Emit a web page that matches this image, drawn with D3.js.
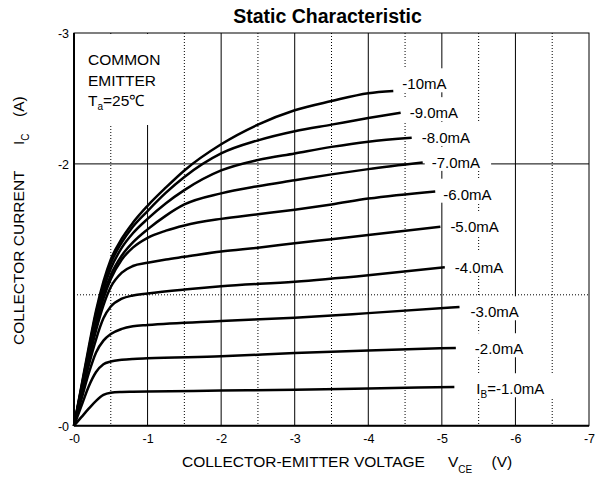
<!DOCTYPE html>
<html>
<head>
<meta charset="utf-8">
<script src="https://cdn.jsdelivr.net/npm/d3@7"></script>
<style>
  body { margin: 0; background: #fff; }
  text { font-family: "Liberation Sans", Arial, sans-serif; fill: #000; }
</style>
</head>
<body>
<div id="chart"></div>
<script>
// Base current of each curve (PNP, so everything is negative)
const ibLabels = ["-10mA", "-9.0mA", "-8.0mA", "-7.0mA", "-6.0mA", "-5.0mA", "-4.0mA", "-3.0mA", "-2.0mA", "-1.0mA"];

// [VCE (V), IC (A)]
const curve10mA = [[0, 0], [-0.1, -0.3], [-0.2, -0.6], [-0.3, -0.88], [-0.4, -1.1], [-0.5, -1.27], [-0.65, -1.43], [-0.8, -1.55], [-1, -1.68], [-1.25, -1.82], [-1.5, -1.95], [-2, -2.15], [-2.5, -2.3], [-3, -2.41], [-3.5, -2.48], [-4, -2.54], [-4.34, -2.557]];
const curve9mA = [[0, 0], [-0.1, -0.29], [-0.2, -0.58], [-0.3, -0.86], [-0.4, -1.07], [-0.5, -1.24], [-0.65, -1.4], [-0.8, -1.52], [-1, -1.64], [-1.25, -1.78], [-1.5, -1.9], [-2, -2.08], [-2.5, -2.18], [-3, -2.25], [-3.5, -2.3], [-4, -2.35], [-4.44, -2.39]];
const curve8mA = [[0, 0], [-0.1, -0.28], [-0.2, -0.56], [-0.3, -0.83], [-0.4, -1.04], [-0.5, -1.2], [-0.65, -1.36], [-0.8, -1.47], [-1, -1.58], [-1.25, -1.7], [-1.5, -1.8], [-2, -1.95], [-2.5, -2.03], [-3, -2.08], [-3.5, -2.13], [-4, -2.17], [-4.59, -2.2]];
const curve7mA = [[0, 0], [-0.1, -0.27], [-0.2, -0.54], [-0.3, -0.8], [-0.4, -1.0], [-0.5, -1.15], [-0.65, -1.3], [-0.8, -1.4], [-1, -1.5], [-1.25, -1.605], [-1.5, -1.69], [-2, -1.775], [-2.5, -1.83], [-3, -1.875], [-3.5, -1.92], [-4, -1.96], [-4.74, -2.01]];
const curve6mA = [[0, 0], [-0.1, -0.26], [-0.2, -0.52], [-0.3, -0.77], [-0.4, -0.97], [-0.5, -1.12], [-0.65, -1.27], [-0.8, -1.36], [-1, -1.435], [-1.25, -1.49], [-1.5, -1.53], [-2, -1.58], [-2.5, -1.615], [-3, -1.65], [-3.5, -1.69], [-4, -1.735], [-4.91, -1.79]];
const curve5mA = [[0, 0], [-0.1, -0.25], [-0.2, -0.5], [-0.3, -0.73], [-0.4, -0.92], [-0.5, -1.06], [-0.65, -1.17], [-0.8, -1.22], [-1, -1.245], [-1.25, -1.27], [-1.5, -1.29], [-2, -1.33], [-2.5, -1.36], [-3, -1.393], [-3.5, -1.425], [-4, -1.457], [-4.98, -1.52]];
const curve4mA = [[0, 0], [-0.1, -0.23], [-0.2, -0.46], [-0.3, -0.66], [-0.4, -0.82], [-0.5, -0.91], [-0.65, -0.97], [-0.8, -0.995], [-1, -1.01], [-1.5, -1.04], [-2, -1.065], [-3, -1.1], [-4, -1.15], [-5.04, -1.21]];
const curve3mA = [[0, 0], [-0.1, -0.2], [-0.2, -0.4], [-0.3, -0.56], [-0.4, -0.65], [-0.5, -0.7], [-0.65, -0.74], [-0.8, -0.76], [-1, -0.77], [-2, -0.8], [-3, -0.825], [-4, -0.86], [-5.24, -0.907]];
const curve2mA = [[0, 0], [-0.1, -0.15], [-0.2, -0.3], [-0.3, -0.41], [-0.4, -0.47], [-0.5, -0.49], [-0.65, -0.503], [-0.8, -0.51], [-1, -0.515], [-2, -0.53], [-3, -0.555], [-4, -0.575], [-5.19, -0.594]];
const curve1mA = [[0, 0], [-0.1, -0.065], [-0.2, -0.13], [-0.3, -0.19], [-0.4, -0.235], [-0.5, -0.252], [-0.65, -0.258], [-0.8, -0.26], [-1, -0.262], [-2, -0.268], [-3, -0.275], [-4, -0.285], [-5.17, -0.296]];
const curves = [curve10mA, curve9mA, curve8mA, curve7mA, curve6mA, curve5mA, curve4mA, curve3mA, curve2mA, curve1mA];

// axes
const xTicks = [0, -1, -2, -3, -4, -5, -6, -7];
const xTickLabels = ["-0", "-1", "-2", "-3", "-4", "-5", "-6", "-7"];
const yTicks = [-3, -2, 0];
const yTickLabels = ["-3", "-2", "-0"];
const xMajorGrid = [-1, -2, -3, -4, -5, -6];
const xMinorGrid = [-0.5, -1.5, -2.5, -3.5, -4.5, -5.5, -6.5];
const yMajorGrid = [-2];
const yMinorGrid = [-1];

// label offsets from the curve ends, in pixels [dx, dy]
const labelNudge = [[9, -7], [9, 0], [10, 0], [9, 0], [8, 3], [10, 0], [10, 0], [11, 5], [19, 1], [22, 2]];

let margin = {top: 33, right: 7, bottom: 51.3, left: 74};
let width = 596 - margin.left - margin.right,
    height = 477 - margin.top - margin.bottom;

let svg = d3.select("#chart").append("svg")
    .attr("width", 596).attr("height", 477);

let xScale = d3.scaleLinear().domain([0, -7]).range([0, width]);
let yScale = d3.scaleLinear().domain([0, -3]).range([height, 0]);

let g = svg.append("g").attr("transform", `translate(${margin.left}, ${margin.top})`);

// grid
g.selectAll(".vminor").data(xMinorGrid).enter().append("line")
    .attr("x1", d => xScale(d)).attr("x2", d => xScale(d))
    .attr("y1", 0).attr("y2", height)
    .attr("stroke", "#000").attr("stroke-width", 1).attr("stroke-dasharray", "1,2");
g.selectAll(".hminor").data(yMinorGrid).enter().append("line")
    .attr("x1", 0).attr("x2", width)
    .attr("y1", d => yScale(d)).attr("y2", d => yScale(d))
    .attr("stroke", "#000").attr("stroke-width", 1).attr("stroke-dasharray", "1,2");
g.selectAll(".vmajor").data(xMajorGrid).enter().append("line")
    .attr("x1", d => xScale(d)).attr("x2", d => xScale(d))
    .attr("y1", 0).attr("y2", height)
    .attr("stroke", "#000").attr("stroke-width", 1);
g.selectAll(".hmajor").data(yMajorGrid).enter().append("line")
    .attr("x1", 0).attr("x2", width)
    .attr("y1", d => yScale(d)).attr("y2", d => yScale(d))
    .attr("stroke", "#000").attr("stroke-width", 1);

// white boxes behind the texts, then the texts
let boxLayer = g.append("g");
let textLayer = g.append("g");

// condition note
let note = textLayer.append("g").style("font-size", "15.5px");
note.append("text").attr("x", 14).attr("y", 32).text("COMMON");
note.append("text").attr("x", 14).attr("y", 52.7).text("EMITTER");
let ta = note.append("text").attr("x", 14).attr("y", 72.5);
ta.append("tspan").text("T");
ta.append("tspan").attr("dy", 4).style("font-size", "10px").text("a");
ta.append("tspan").attr("dy", -4).text("=25\u2103");
let noteBox = note.node().getBBox();
boxLayer.append("rect")
    .attr("x", 1).attr("y", 1)
    .attr("width", noteBox.x + noteBox.width + 10)
    .attr("height", 91)
    .attr("fill", "#fff");

// curves
let line = d3.line()
    .x(d => xScale(d[0]))
    .y(d => yScale(d[1]))
    .curve(d3.curveMonotoneX);

g.append("g").selectAll("path").data(curves).enter().append("path")
    .attr("d", line)
    .attr("fill", "none")
    .attr("stroke", "#000")
    .attr("stroke-width", 2.5);

// curve labels
curves.forEach(function(c, i) {
    let end = c[c.length - 1];
    let lx = xScale(end[0]) + labelNudge[i][0];
    let ly = yScale(end[1]) + labelNudge[i][1] + 5.3;
    let t = textLayer.append("text").attr("x", lx).attr("y", ly).style("font-size", "15px");
    if (i === curves.length - 1) {
        t.append("tspan").text("I");
        t.append("tspan").attr("dy", 4).style("font-size", "10px").text("B");
        t.append("tspan").attr("dy", -4).text("=" + ibLabels[i]);
    } else {
        t.text(ibLabels[i]);
    }
    let w = t.node().getComputedTextLength();
    boxLayer.append("rect")
        .attr("x", lx - 7).attr("y", ly - 21)
        .attr("width", w + 18).attr("height", 24)
        .attr("fill", "#fff");
});

// frame: thin top/right, heavier left/bottom
g.append("rect").attr("x", 0).attr("y", 0).attr("width", width).attr("height", height)
    .attr("fill", "none").attr("stroke", "#000").attr("stroke-width", 1);
g.append("line").attr("x1", 0).attr("x2", 0).attr("y1", 0).attr("y2", height)
    .attr("stroke", "#000").attr("stroke-width", 2);
g.append("line").attr("x1", 0).attr("x2", width).attr("y1", height).attr("y2", height)
    .attr("stroke", "#000").attr("stroke-width", 2);

// tick labels
let xAxis = d3.axisBottom(xScale).tickValues(xTicks).tickSize(0).tickPadding(0)
    .tickFormat((d, i) => xTickLabels[i]);
let yAxis = d3.axisLeft(yScale).tickValues(yTicks).tickSize(0).tickPadding(0)
    .tickFormat((d, i) => yTickLabels[i]);

let xg = g.append("g").attr("transform", `translate(0, ${height})`).call(xAxis);
xg.select(".domain").remove();
xg.selectAll("text").attr("y", 17.3).attr("dy", 0)
    .style("font-size", "12.5px").style("font-family", "Liberation Sans, Arial, sans-serif");

let yg = g.append("g").call(yAxis);
yg.select(".domain").remove();
yg.selectAll("text").attr("x", -5).attr("dy", "0.35em")
    .style("font-size", "12.5px").style("font-family", "Liberation Sans, Arial, sans-serif");

// titles
svg.append("text")
    .attr("x", 327.5).attr("y", 23)
    .attr("text-anchor", "middle")
    .style("font-size", "19.5px").style("font-weight", "bold")
    .text("Static Characteristic");

let xt = svg.append("text").attr("y", 466.5).style("font-size", "15.5px");
xt.append("tspan").attr("x", 182).text("COLLECTOR-EMITTER VOLTAGE");
xt.append("tspan").attr("x", 448).text("V");
xt.append("tspan").attr("dy", 6).style("font-size", "10px").text("CE");
xt.append("tspan").attr("x", 491.5).attr("dy", -6).text("(V)");

let yt = svg.append("text").attr("transform", "translate(24, 345) rotate(-90)")
    .style("font-size", "15.5px");
yt.append("tspan").attr("x", 0).text("COLLECTOR CURRENT");
yt.append("tspan").attr("x", 200).text("I");
yt.append("tspan").attr("dy", 5).style("font-size", "10px").text("C");
yt.append("tspan").attr("x", 228).attr("dy", -5).text("(A)");
</script>
</body>
</html>
